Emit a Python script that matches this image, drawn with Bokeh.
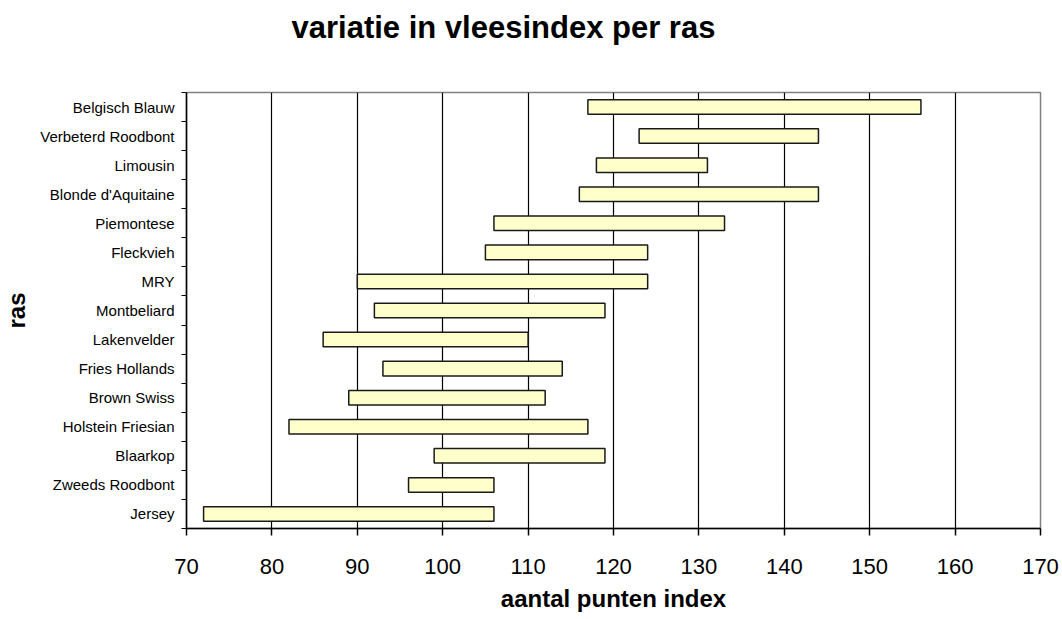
from bokeh.plotting import figure
from bokeh.models import FixedTicker, ColumnDataSource, Title
from bokeh.embed import file_html
from bokeh.resources import INLINE

# Data (top to bottom as in the chart)
rassen = ["Belgisch Blauw", "Verbeterd Roodbont", "Limousin", "Blonde d'Aquitaine",
          "Piemontese", "Fleckvieh", "MRY", "Montbeliard", "Lakenvelder",
          "Fries Hollands", "Brown Swiss", "Holstein Friesian", "Blaarkop",
          "Zweeds Roodbont", "Jersey"]
minimum = [117, 123, 118, 116, 106, 105, 90, 92, 86, 93, 89, 82, 99, 96, 72]
maximum = [156, 144, 131, 144, 133, 124, 124, 119, 110, 114, 112, 117, 119, 106, 106]
x_ticks = [70, 80, 90, 100, 110, 120, 130, 140, 150, 160, 170]

n = len(rassen)
ypos = [n - 1 - i for i in range(n)]
src = ColumnDataSource(dict(y=ypos, left=minimum, right=maximum, name=rassen))

FONT = "Liberation Sans"

p = figure(width=1060, height=619, output_backend="svg", toolbar_location=None,
           x_range=(70, 170), y_range=(-0.5, n - 0.5),
           frame_width=854, frame_height=436,
           min_border_left=186, min_border_right=20, min_border_top=92, min_border_bottom=87)

p.title = Title(text="variatie in vleesindex per ras", text_font=FONT, text_font_size="31px",
                text_font_style="bold", text_color="black", align="left", offset=105)
# spacer between frame and title
p.add_layout(Title(text=" ", text_font=FONT, text_font_size="37px", standoff=0), "above")

p.hbar(y="y", left="left", right="right", height=0.5, source=src,
       fill_color="#FFFFCC", line_color="#1a1a1a", line_width=1.5)

p.outline_line_color = "#808080"
p.outline_line_width = 1.5
p.background_fill_color = "white"
p.border_fill_color = "white"

# x axis
p.xaxis.ticker = FixedTicker(ticks=x_ticks)
p.xaxis.major_tick_out = 7
p.xaxis.major_tick_in = 0
p.xaxis.minor_tick_line_color = None
p.xaxis.axis_line_color = "black"
p.xaxis.axis_line_width = 1.5
p.xaxis.major_tick_line_width = 1.5
p.xaxis.major_label_text_font = FONT
p.xaxis.major_label_text_font_size = "22px"
p.xaxis.major_label_text_color = "black"
p.xaxis.major_label_standoff = 23
p.xaxis.axis_label = "aantal punten index"
p.xaxis.axis_label_text_font = FONT
p.xaxis.axis_label_text_font_size = "24px"
p.xaxis.axis_label_text_font_style = "bold"
p.xaxis.axis_label_text_color = "black"
p.xaxis.axis_label_standoff = 8

# y axis: labels at centers, ticks at boundaries
bounds = [i - 0.5 for i in range(n + 1)]
p.yaxis.ticker = FixedTicker(ticks=ypos, minor_ticks=bounds)
p.yaxis.major_label_overrides = {y: name for y, name in zip(ypos, rassen)}
p.yaxis.major_tick_line_color = None
p.yaxis.major_tick_out = 0
p.yaxis.major_tick_in = 0
p.yaxis.minor_tick_line_color = "black"
p.yaxis.minor_tick_out = 5
p.yaxis.minor_tick_in = 0
p.yaxis.axis_line_color = "black"
p.yaxis.axis_line_width = 1.5
p.yaxis.major_label_text_font = FONT
p.yaxis.major_label_text_font_size = "15px"
p.yaxis.major_label_text_color = "black"
p.yaxis.major_label_standoff = 7
p.yaxis.axis_label = "ras"
p.yaxis.axis_label_text_font = FONT
p.yaxis.axis_label_text_font_size = "24px"
p.yaxis.axis_label_text_font_style = "bold"
p.yaxis.axis_label_text_color = "black"
p.yaxis.axis_label_standoff = 7

# grid
p.xgrid.ticker = FixedTicker(ticks=x_ticks[1:-1])
p.xgrid.grid_line_color = "black"
p.xgrid.grid_line_width = 1.2
p.ygrid.grid_line_color = None

open("out.html", "w").write(file_html(p, INLINE))
